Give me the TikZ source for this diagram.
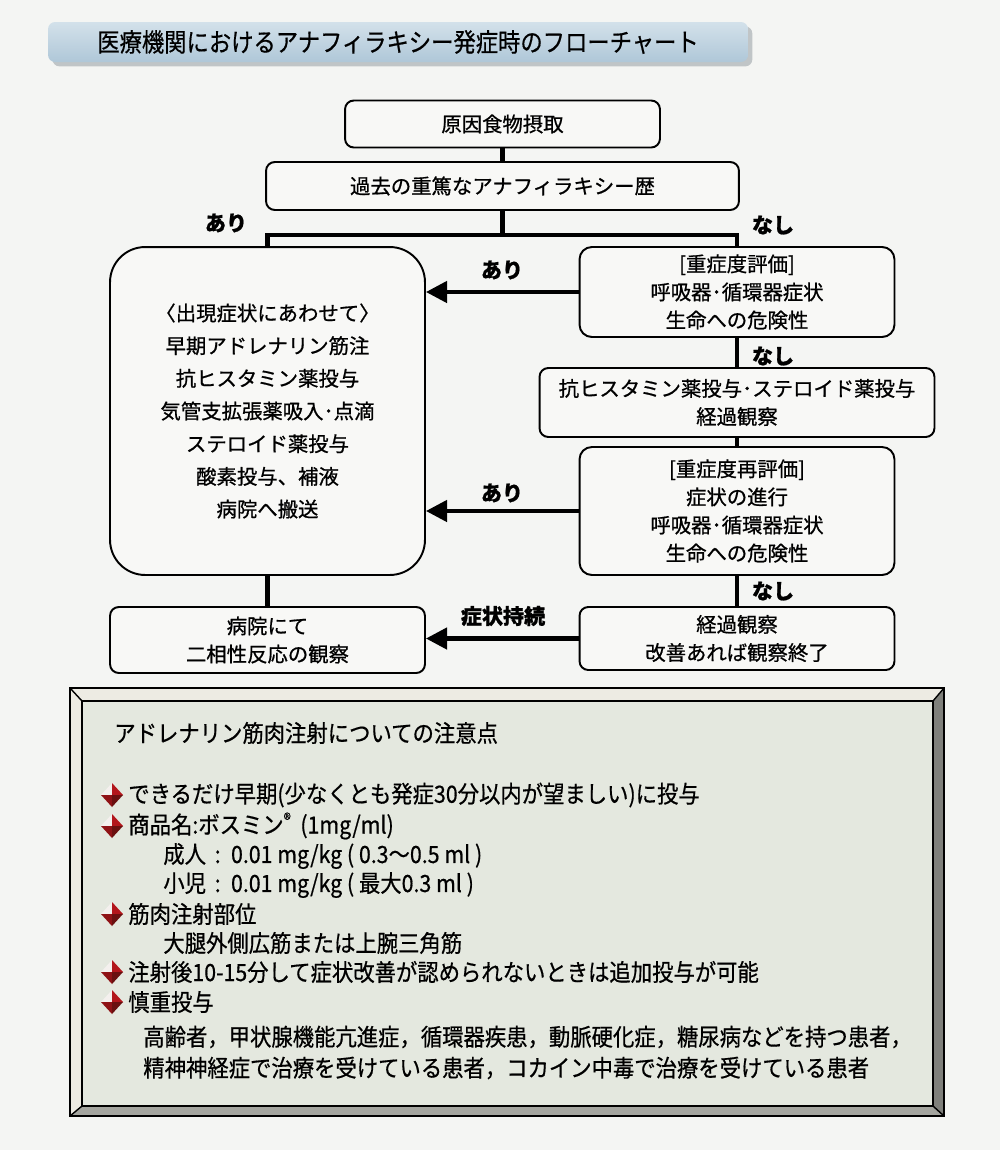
\documentclass[tikz,border=0pt]{standalone}
\usepackage{fontspec}
\newfontfamily\jp[FakeBold=0.8]{Noto Sans CJK JP}
\newfontfamily\jpn[FakeStretch=0.9,FakeBold=0.6]{Noto Sans CJK JP}
\newfontfamily\jpt[FakeStretch=0.87,FakeBold=0.5]{Noto Sans CJK JP}
\usetikzlibrary{arrows.meta,shadows}
\definecolor{paper}{HTML}{F4F5F3}
\definecolor{boxfill}{HTML}{F8F8F6}
\definecolor{titletop}{HTML}{D3E1EA}
\definecolor{titlebot}{HTML}{AFC7D8}
\definecolor{titleshadow}{HTML}{8E969C}
\definecolor{face}{HTML}{E4E8DF}
\definecolor{bevellight}{HTML}{EDEBE3}
\definecolor{bevelright}{HTML}{7F807B}
\definecolor{bevelbottom}{HTML}{A4A59F}
\definecolor{pointlight}{HTML}{F4F0EE}
\definecolor{pointred}{HTML}{B3161C}
\definecolor{pointdark}{HTML}{6A1010}
\tikzset{
  redpoint/.pic={
    \fill[pointlight] (-11,0) -- (0,-12) -- (0,0) -- cycle;
    \fill[pointred] (0,-12) -- (11,0) -- (0,0) -- cycle;
    \fill[pointred!80!black] (-11,0) -- (0,12) -- (0,0) -- cycle;
    \fill[pointdark] (0,0) -- (0,12) -- (11,0) -- cycle;
  }
}
\begin{document}
\begin{tikzpicture}[x=0.02cm, y=-0.02cm,
    box/.style={draw, line width=1.1pt, rounded corners=5pt, fill=boxfill, align=center,
      inner sep=0pt, font=\jp\fontsize{11.6}{16}\selectfont},
    flow/.style={line width=2.4pt, line join=miter},
    flowarrow/.style={flow, -{Triangle[length=12pt,width=12pt]}},
    answer/.style={font=\jp\bfseries\fontsize{12}{14}\selectfont},
    note/.style={anchor=west, inner sep=0pt, font=\jpn\fontsize{13.5}{16}\selectfont}]
  \useasboundingbox (0,0) rectangle (1000,1150);
  \fill[paper] (0,0) rectangle (1000,1150);

  \node[top color=titletop, bottom color=titlebot, rounded corners=4pt,
    minimum width=14cm, minimum height=0.8cm, inner sep=0pt,
    drop shadow={shadow xshift=2.5pt, shadow yshift=-2.5pt, fill=titleshadow},
    font=\jpt\fontsize{14.6}{16}\selectfont] (title) at (398,42)
    {医療機関におけるアナフィラキシー発症時のフローチャート};

  % flow chart
  \node[box, minimum width=6.3cm, minimum height=0.94cm] (cause) at (502.5,124) {原因食物摂取};
  \node[box, minimum width=9.46cm, minimum height=0.96cm] (history) at (502.5,186) {過去の重篤なアナフィラキシー歴};
  \node[box, rounded corners=20pt, minimum width=6.3cm, minimum height=6.56cm,
    font=\jp\fontsize{11.6}{18.6}\selectfont] (treat) at (267.5,411)
    {〈出現症状にあわせて〉\\早期アドレナリン筋注\\抗ヒスタミン薬投与\\気管支拡張薬吸入･点滴\\ステロイド薬投与\\酸素投与、補液\\病院へ搬送};
  \node[box, minimum width=6.3cm, minimum height=1.32cm] (hosp) at (267.5,640) {病院にて\\二相性反応の観察};
  \node[box, rounded corners=7pt, minimum width=6.3cm, minimum height=1.8cm] (sev) at (737,292)
    {[重症度評価]\\呼吸器･循環器症状\\生命への危険性};
  \node[box, minimum width=7.9cm, minimum height=1.38cm] (anti) at (737,402.5)
    {抗ヒスタミン薬投与･ステロイド薬投与\\経過観察};
  \node[box, rounded corners=7pt, minimum width=6.3cm, minimum height=2.56cm] (reeval) at (737,511)
    {[重症度再評価]\\症状の進行\\呼吸器･循環器症状\\生命への危険性};
  \node[box, minimum width=6.3cm, minimum height=1.26cm] (obs) at (737,638.5) {経過観察\\改善あれば観察終了};

  \coordinate (split) at (502.5,235);
  \draw[flow] (cause) -- (history);
  \draw[flow] (history) -- (split);
  \draw[flow] (treat.north) |- (split) -| (sev.north);
  \draw[flow] (sev) -- (anti);
  \draw[flow] (anti) -- (reeval);
  \draw[flow] (reeval) -- (obs);
  \draw[flow] (treat) -- (hosp);
  \draw[flowarrow] (sev.west) -- (sev.west -| treat.east);
  \draw[flowarrow] (reeval.west) -- (reeval.west -| treat.east);
  \draw[flowarrow] (obs.west) -- (obs.west -| hosp.east);

  \node[answer] (yes0) at (226,223) {あり};
  \node[answer] (no0) at (773,225) {なし};
  \node[answer] (yes1) at (502,270) {あり};
  \node[answer] (no1) at (773,356) {なし};
  \node[answer] (yes2) at (502,493) {あり};
  \node[answer] (no2) at (773,591) {なし};
  \node[answer] (still) at (503,616) {症状持続};

  % notes on the adrenaline injection
  \fill[bevellight] (70,688) -- (944,688) -- (933,701) -- (82,701) -- (82,1106) -- (70,1116) -- cycle;
  \fill[bevelright] (944,688) -- (944,1116) -- (933,1106) -- (933,701) -- cycle;
  \fill[bevelbottom] (70,1116) -- (944,1116) -- (933,1106) -- (82,1106) -- cycle;
  \fill[face] (82,701) rectangle (933,1106);
  \draw[line width=1pt] (70,688) rectangle (944,1116);
  \draw[line width=1pt] (82,701) rectangle (933,1106);
  \draw[line width=0.8pt] (70,688) -- (82,701) (944,688) -- (933,701)
    (944,1116) -- (933,1106) (70,1116) -- (82,1106);

  \node[note] (head) at (114,733) {アドレナリン筋肉注射についての注意点};
  \pic at (112,795) {redpoint};
  \node[note] (n1) at (128,795) {できるだけ早期(少なくとも発症30分以内が望ましい)に投与};
  \pic at (112,826) {redpoint};
  \node[note] (n2) at (128,826) {商品名:ボスミン\raisebox{0.6ex}{\fontsize{9.5}{9.5}\selectfont ®}\ \ (1mg/ml)};
  \node[note] (n3) at (163,856) {成人 \,:\, 0.01 mg/kg ( 0.3～0.5 ml )};
  \node[note] (n4) at (163,885) {小児 \,:\, 0.01 mg/kg ( 最大0.3 ml )};
  \pic at (112,914) {redpoint};
  \node[note] (n5) at (128,914) {筋肉注射部位};
  \node[note] (n6) at (163,943) {大腿外側広筋または上腕三角筋};
  \pic at (112,972) {redpoint};
  \node[note] (n7) at (128,972) {注射後10-15分して症状改善が認められないときは追加投与が可能};
  \pic at (112,1002) {redpoint};
  \node[note] (n8) at (128,1002) {慎重投与};
  \node[note] (n9) at (143,1037) {高齢者，甲状腺機能亢進症，循環器疾患，動脈硬化症，糖尿病などを持つ患者，};
  \node[note] (n10) at (143,1068) {精神神経症で治療を受けている患者，コカイン中毒で治療を受けている患者};
\end{tikzpicture}
\end{document}
